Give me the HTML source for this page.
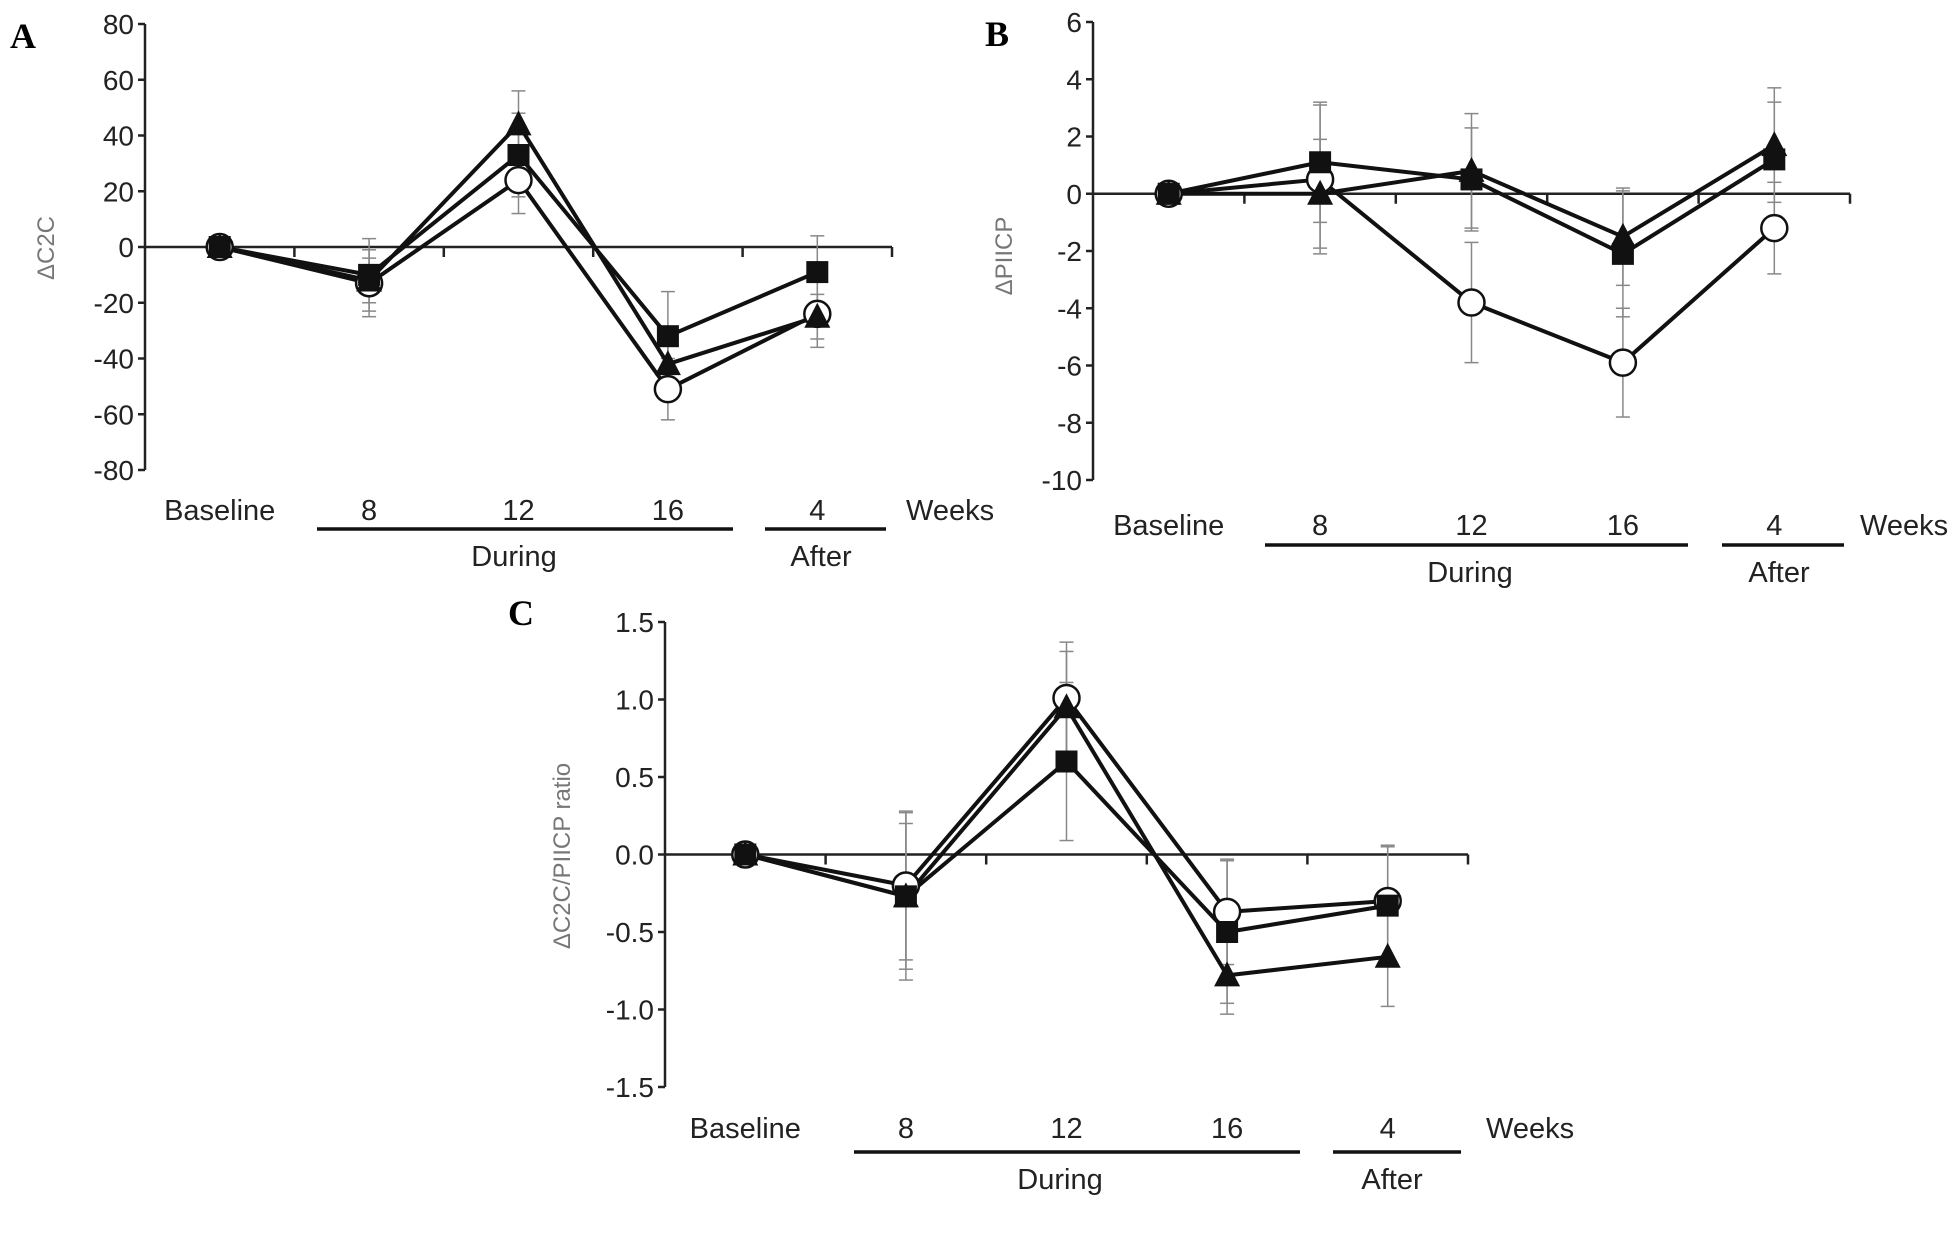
<!DOCTYPE html>
<html><head><meta charset="utf-8"><style>
html,body{margin:0;padding:0;background:#fff;}
svg{display:block;font-family:"Liberation Sans",Arial,sans-serif;}
</style></head><body>
<svg id="fig" width="1950" height="1236" viewBox="0 0 1950 1236" xmlns="http://www.w3.org/2000/svg"></svg>
<script>
const categories=["Baseline","8","12","16","4"];
// Panel A: ΔC2C
const aSquare=[0,-10,33,-32,-9];
const aCircle=[0,-13,24,-51,-24];
const aTriangle=[0,-12,44,-42,-25];
const aSquareErr=[0,13,15,16,13];
const aCircleErr=[0,12,12,11,12];
const aTriangleErr=[0,8,12,10,8];
const aTicks=[80,60,40,20,0,-20,-40,-60,-80];
// Panel B: ΔPIICP
const bSquare=[0,1.1,0.5,-2.1,1.2];
const bCircle=[0,0.5,-3.8,-5.9,-1.2];
const bTriangle=[0,0,0.8,-1.5,1.7];
const bSquareErr=[0,2.1,1.8,2.2,2];
const bCircleErr=[0,2.6,2.1,1.9,1.6];
const bTriangleErr=[0,1.9,2,1.7,2];
const bTicks=[6,4,2,0,-2,-4,-6,-8,-10];
// Panel C: ratio
const cSquare=[0,-0.27,0.6,-0.5,-0.33];
const cCircle=[0,-0.2,1.01,-0.37,-0.3];
const cTriangle=[0,-0.27,0.95,-0.78,-0.66];
const cSquareErr=[0,0.47,0.51,0.46,0.38];
const cCircleErr=[0,0.48,0.36,0.34,0.36];
const cTriangleErr=[0,0.54,0.36,0.25,0.32];
const cTickLabels=["1.5","1.0","0.5","0.0","-0.5","-1.0","-1.5"];
const cTicks=[1.5,1,0.5,0,-0.5,-1,-1.5];

const NS="http://www.w3.org/2000/svg";
const svg=document.getElementById('fig');
function mk(tag,attrs,parent,text){const e=document.createElementNS(NS,tag);for(const k in attrs)e.setAttribute(k,attrs[k]);if(text!==undefined)e.textContent=text;(parent||svg).appendChild(e);return e;}

function panel(p){
  const g=mk('g',{});
  
  
  const yMax=p.ticks[0],yMin=p.ticks[p.ticks.length-1];
  const ys=v=>p.yTop+(yMax-v)/(yMax-yMin)*(p.yBot-p.yTop);
  const step=(p.xEnd-p.ax)/5;
  const xs=i=>p.ax+step*(i+0.5);
  let t=mk('text',{x:p.letterX,y:p.letterY,'font-family':'Liberation Serif, serif','font-weight':'bold','font-size':36},g,p.id);
  
  let ya=mk('line',{x1:p.ax,y1:p.yTop,x2:p.ax,y2:p.yBot,stroke:'#222','stroke-width':2.5},g);
  
  p.ticks.forEach((v,i)=>{
    const y=ys(v);
    mk('line',{x1:p.ax-7,y1:y,x2:p.ax,y2:y,stroke:'#222','stroke-width':2.5},g);
    const tl=mk('text',{x:p.ax-11,y:y+10,'text-anchor':'end','font-size':28,fill:'#222'},g,p.tickLabels?p.tickLabels[i]:String(v));
    
  });
  const y0=ys(0);
  let xa=mk('line',{x1:p.ax,y1:y0,x2:p.xEnd,y2:y0,stroke:'#222','stroke-width':2.5},g);
  
  for(let i=1;i<=5;i++){const x=p.ax+step*i;mk('line',{x1:x,y1:y0,x2:x,y2:y0+10,stroke:'#222','stroke-width':2.5},g);}
  const yt=mk('text',{x:p.ytX,y:p.ytY,'text-anchor':'middle','font-size':24,fill:'#777',transform:`rotate(-90 ${p.ytX} ${p.ytY})`},g,p.yTitle);
  
  categories.forEach((c,i)=>{
    const cl=mk('text',{x:xs(i),y:p.labY+10,'text-anchor':'middle','font-size':29,fill:'#222'},g,c);
    
  });
  const wk=mk('text',{x:p.weeksX,y:p.labY+10,'font-size':29,fill:'#222'},g,'Weeks');
  
  const d1=mk('line',{x1:p.durX[0],y1:p.ulY,x2:p.durX[1],y2:p.ulY,stroke:'#111','stroke-width':3.5},g);
  
  const d2=mk('line',{x1:p.aftX[0],y1:p.ulY,x2:p.aftX[1],y2:p.ulY,stroke:'#111','stroke-width':3.5},g);
  
  const dt=mk('text',{x:p.durTX,y:p.ulY+37,'text-anchor':'middle','font-size':29,fill:'#222'},g,'During');
  
  const at=mk('text',{x:p.aftTX,y:p.ulY+37,'text-anchor':'middle','font-size':29,fill:'#222'},g,'After');
  
  p.series.forEach(s=>{
    s.vals.forEach((v,i)=>{
      const e=s.err[i];if(!e)return;
      const x=xs(i),a=ys(v+e),b=ys(v-e);
      const eb=mk('g',{},g);
      
      mk('line',{x1:x,y1:a,x2:x,y2:b,stroke:'#888','stroke-width':1.5},eb);
      mk('line',{x1:x-7,y1:a,x2:x+7,y2:a,stroke:'#888','stroke-width':1.5},eb);
      mk('line',{x1:x-7,y1:b,x2:x+7,y2:b,stroke:'#888','stroke-width':1.5},eb);
    });
  });
  p.series.forEach(s=>{
    const pl=mk('polyline',{points:s.vals.map((v,i)=>xs(i)+','+ys(v)).join(' '),fill:'none',stroke:'#111','stroke-width':4,'stroke-linejoin':'round'},g);
    
  });
  p.series.forEach(s=>{
    s.vals.forEach((v,i)=>{
      const x=xs(i),y=ys(v);let m;
      if(s.shape==='circle')m=mk('circle',{cx:x,cy:y,r:13,fill:'#fff',stroke:'#111','stroke-width':2.5},g);
      else if(s.shape==='square')m=mk('rect',{x:x-11,y:y-11,width:22,height:22,fill:'#111'},g);
      else m=mk('polygon',{points:`${x},${y-14} ${x-13},${y+11} ${x+13},${y+11}`,fill:'#111'},g);
      
    });
  });
}

panel({id:'A',ax:145,xEnd:892,yTop:24,yBot:470,ticks:aTicks,letterX:10,letterY:48,ytX:54,ytY:248,yTitle:'ΔC2C',
  labY:510,ulY:529,durX:[317,733],aftX:[765,886],durTX:514,aftTX:821,weeksX:906,
  series:[{name:'circle',shape:'circle',vals:aCircle,err:aCircleErr},{name:'triangle',shape:'triangle',vals:aTriangle,err:aTriangleErr},{name:'square',shape:'square',vals:aSquare,err:aSquareErr}]});
panel({id:'B',ax:1093,xEnd:1850,yTop:22,yBot:480,ticks:bTicks,letterX:985,letterY:46,ytX:1012,ytY:256,yTitle:'ΔPIICP',
  labY:525,ulY:545,durX:[1265,1688],aftX:[1722,1844],durTX:1470,aftTX:1779,weeksX:1860,
  series:[{name:'circle',shape:'circle',vals:bCircle,err:bCircleErr},{name:'triangle',shape:'triangle',vals:bTriangle,err:bTriangleErr},{name:'square',shape:'square',vals:bSquare,err:bSquareErr}]});
panel({id:'C',ax:665,xEnd:1468,yTop:622,yBot:1087,ticks:cTicks,tickLabels:cTickLabels,letterX:508,letterY:625,ytX:570,ytY:856,yTitle:'ΔC2C/PIICP ratio',
  labY:1128,ulY:1152,durX:[854,1300],aftX:[1333,1461],durTX:1060,aftTX:1392,weeksX:1486,
  series:[{name:'circle',shape:'circle',vals:cCircle,err:cCircleErr},{name:'triangle',shape:'triangle',vals:cTriangle,err:cTriangleErr},{name:'square',shape:'square',vals:cSquare,err:cSquareErr}]});
</script>
</body></html>
